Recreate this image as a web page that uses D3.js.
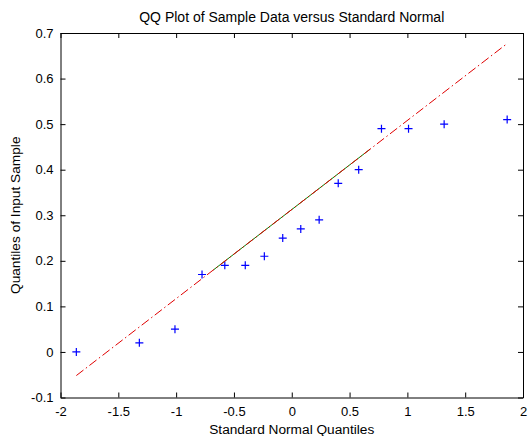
<!DOCTYPE html>
<html>
<head>
<meta charset="utf-8">
<script src="https://cdn.jsdelivr.net/npm/d3@7"></script>
<style>
  html, body { margin: 0; padding: 0; background: #fff; }
  svg text { font-family: "Liberation Sans", Arial, Helvetica, sans-serif; fill: #000; }
</style>
</head>
<body>
<svg id="chart" width="529" height="436"></svg>
<script>
// standard normal quantiles (x) and sorted sample values (y)
var normalQuantiles = [-1.863, -1.318, -1.010, -0.776, -0.579, -0.402, -0.237, -0.078,
                        0.078, 0.237, 0.402, 0.579, 0.776, 1.010, 1.318, 1.863];
var sampleValues = [0, 0.02, 0.05, 0.17, 0.19, 0.19, 0.21, 0.25,
                    0.27, 0.29, 0.37, 0.40, 0.49, 0.49, 0.50, 0.51];
var xTicks = [-2, -1.5, -1, -0.5, 0, 0.5, 1, 1.5, 2];
var yTicks = [-0.1, 0, 0.1, 0.2, 0.3, 0.4, 0.5, 0.6, 0.7];

(function () {
	var svg = d3.select("#chart");
	var mLeft = 60.5, mRight = 523, mTop = 33, mBottom = 397.5;

	var x = d3.scaleLinear().domain([-2, 2]).range([mLeft, mRight]);
	var y = d3.scaleLinear().domain([-0.1, 0.7]).range([mBottom, mTop]);

	// matlab style percentile (midpoint rule)
	function prctile(arr, p) {
		var a = arr.slice().sort(d3.ascending), n = a.length;
		var pos = p * n + 0.5;
		if (pos <= 1) return a[0];
		if (pos >= n) return a[n - 1];
		var i = Math.floor(pos), f = pos - i;
		return a[i - 1] + f * (a[i] - a[i - 1]);
	}

	var qx1 = prctile(normalQuantiles, 0.25), qx3 = prctile(normalQuantiles, 0.75);
	var qy1 = prctile(sampleValues, 0.25), qy3 = prctile(sampleValues, 0.75);
	var slope = (qy3 - qy1) / (qx3 - qx1);
	function fit(v) { return qy1 + slope * (v - qx1); }
	var xMin = d3.min(normalQuantiles), xMax = d3.max(normalQuantiles);

	var g = svg.append("g");

	// data markers
	var plus = 4;
	g.selectAll("path.pt").data(d3.zip(normalQuantiles, sampleValues)).enter()
		.append("path").attr("class", "pt")
		.attr("transform", function (d) { return "translate(" + x(d[0]) + "," + y(d[1]) + ")"; })
		.attr("d", "M" + (-plus) + ",0H" + plus + "M0," + (-plus) + "V" + plus)
		.attr("stroke", "#0000ff").attr("stroke-width", 1.2).attr("fill", "none");

	// quartile segment (solid green)
	g.append("line")
		.attr("x1", x(qx1)).attr("y1", y(qy1))
		.attr("x2", x(qx3)).attr("y2", y(qy3))
		.attr("stroke", "#008000").attr("stroke-width", 1);

	// extended fit line (red dash-dot)
	g.append("line")
		.attr("x1", x(xMin)).attr("y1", y(fit(xMin)))
		.attr("x2", x(xMax)).attr("y2", y(fit(xMax)))
		.attr("stroke", "#e00000").attr("stroke-width", 1)
		.attr("stroke-dasharray", "9,3,1.5,3");

	// axes, ticks pointing inward on all four sides
	var tickLen = 5;
	var fmt = function (d) { return String(+d.toFixed(1)); };
	var axB = g.append("g").attr("transform", "translate(0," + mBottom + ")")
		.call(d3.axisBottom(x).tickValues(xTicks).tickSizeInner(-tickLen).tickSizeOuter(0).tickPadding(9).tickFormat(fmt));
	var axT = g.append("g").attr("transform", "translate(0," + mTop + ")")
		.call(d3.axisTop(x).tickValues(xTicks).tickSizeInner(-tickLen).tickSizeOuter(0).tickFormat(""));
	var axL = g.append("g").attr("transform", "translate(" + mLeft + ",0)")
		.call(d3.axisLeft(y).tickValues(yTicks).tickSizeInner(-tickLen).tickSizeOuter(0).tickPadding(7).tickFormat(fmt));
	var axR = g.append("g").attr("transform", "translate(" + mRight + ",0)")
		.call(d3.axisRight(y).tickValues(yTicks).tickSizeInner(-tickLen).tickSizeOuter(0).tickFormat(""));

	[axB, axT, axL, axR].forEach(function (a) {
		a.select(".domain").attr("stroke", "#000").attr("stroke-width", 1);
		a.selectAll(".tick line").attr("stroke", "#000");
		a.selectAll("text").attr("font-size", 13)
			.attr("font-family", "Liberation Sans, Arial, sans-serif").attr("fill", "#000");
	});

	// titles
	svg.append("text")
		.attr("x", (mLeft + mRight) / 2).attr("y", 22)
		.attr("text-anchor", "middle").attr("font-size", 14)
		.text("QQ Plot of Sample Data versus Standard Normal");
	svg.append("text")
		.attr("x", (mLeft + mRight) / 2).attr("y", 434)
		.attr("text-anchor", "middle").attr("font-size", 13.7)
		.text("Standard Normal Quantiles");
	svg.append("text")
		.attr("transform", "translate(20," + ((mTop + mBottom) / 2) + ") rotate(-90)")
		.attr("text-anchor", "middle").attr("font-size", 13.7)
		.text("Quantiles of Input Sample");
})();
</script>
</body>
</html>
